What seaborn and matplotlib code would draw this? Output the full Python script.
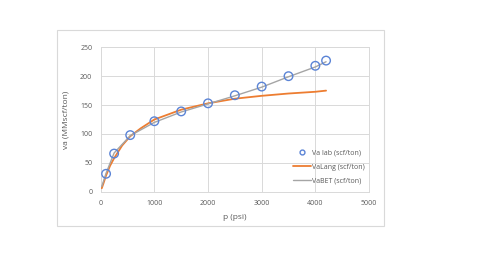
import matplotlib
matplotlib.use("Agg")
import matplotlib.pyplot as plt
import seaborn as sns
import pandas as pd
from matplotlib.patches import Rectangle
from matplotlib.lines import Line2D

# Data
p_lab = [100, 250, 550, 1000, 1500, 2000, 2500, 3000, 3500, 4000, 4200]
va_lab = [31, 66, 98, 122, 139, 153, 167, 182, 200, 218, 227]

p_lang = [20, 50, 100, 175, 250, 400, 550, 750, 1000, 1500, 2000, 2500, 3000, 3500, 4000, 4200]
va_lang = [6, 14, 28, 45, 58, 80, 96, 110, 125, 142, 153, 161, 166, 170, 173, 175]

p_bet = [20, 100, 250, 550, 1000, 1500, 2000, 2500, 3000, 3500, 4000, 4200]
va_bet = [9, 32, 67, 97, 120, 138, 152, 166, 181, 199, 216, 225]

x_ticks = [0, 1000, 2000, 3000, 4000, 5000]
y_ticks = [0, 50, 100, 150, 200, 250]

labels = ["Va lab (scf/ton)", "VaLang (scf/ton)", "VaBET (scf/ton)"]

sns.set_style("white")
plt.rcParams['font.family'] = ['Open Sans', 'DejaVu Sans']

fig = plt.figure(figsize=(4.8, 2.58), dpi=100)
fig.patches.append(Rectangle((57/480, 1 - 225.7/258), (384-57)/480, (225.7-30)/258,
                             transform=fig.transFigure, fill=False,
                             edgecolor='#D9D9D9', linewidth=0.8))
ax = fig.add_axes([100.7/480, 1 - 191.7/258, (369-100.7)/480, (191.7-47.3)/258])

text_col = '#595959'
grid_col = '#D9D9D9'

df_lab = pd.DataFrame({'p': p_lab, 'va': va_lab})
df_lang = pd.DataFrame({'p': p_lang, 'va': va_lang})
df_bet = pd.DataFrame({'p': p_bet, 'va': va_bet})

sns.lineplot(data=df_lang, x='p', y='va', ax=ax, color='#ED7D31', linewidth=1.3, zorder=3)
sns.lineplot(data=df_bet, x='p', y='va', ax=ax, color='#A5A5A5', linewidth=1.0, zorder=4)
sns.scatterplot(data=df_lab, x='p', y='va', ax=ax, marker='o', s=38,
                facecolors='none', edgecolor='#5B84D6', linewidth=1.0, zorder=5)

ax.set_xlim(0, 5000)
ax.set_ylim(0, 250)
ax.set_xticks(x_ticks)
ax.set_yticks(y_ticks)
ax.grid(True, color=grid_col, linewidth=0.7)
for s in ax.spines.values():
    s.set_color(grid_col)
    s.set_linewidth(0.7)
ax.tick_params(axis='both', labelsize=5, colors=text_col, length=0, pad=6)
ax.set_xlabel('p (psi)', fontsize=6, color=text_col, labelpad=5)
ax.set_ylabel('va (MMscf/ton)', fontsize=6, color=text_col, labelpad=8)

handles = [
    Line2D([], [], marker='o', linestyle='none', markerfacecolor='none',
           markeredgecolor='#5B84D6', markersize=3.5, markeredgewidth=1.0),
    Line2D([], [], color='#ED7D31', linewidth=1.3),
    Line2D([], [], color='#A5A5A5', linewidth=1.0),
]
leg = ax.legend(handles, labels, loc='lower right', bbox_to_anchor=(1.0, 0.02),
                frameon=False, fontsize=5, labelcolor=text_col,
                handlelength=2.6, handletextpad=0.1, labelspacing=1.0,
                borderaxespad=0.2)

fig.savefig('out.png', dpi=100, facecolor='white')
